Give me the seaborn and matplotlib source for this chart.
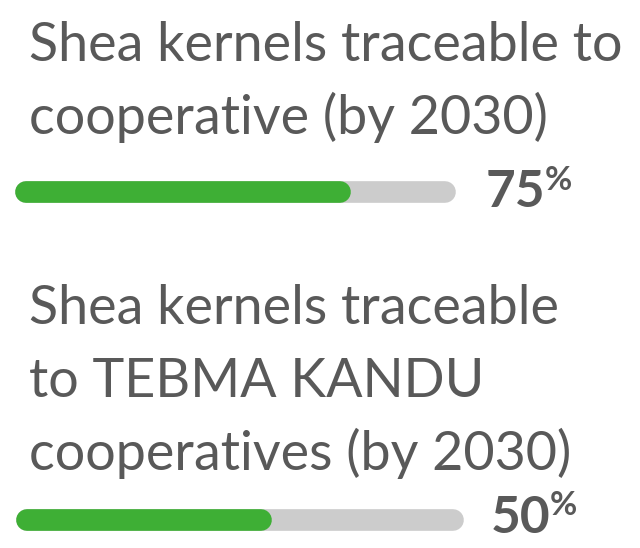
import pandas as pd
import seaborn as sns
import matplotlib.pyplot as plt

# goals shown in the infographic
titles = [
    "Shea kernels traceable to\ncooperative (by 2030)",
    "Shea kernels traceable\nto TEBMA KANDU\ncooperatives (by 2030)",
]
labels = ["75", "50"]          # printed percentage
fill = [75, 55]                # bar length as drawn (percent of track)

green = "#3EAF35"
track = "#CCCCCC"
ink = "#595959"

sns.set_theme(style="white")
plt.rcParams["font.family"] = ["Lato", "DejaVu Sans"]

W, H = 640, 548
fig = plt.figure(figsize=(W / 100, H / 100), dpi=100)


def px(x, y):
    return x / W, 1 - y / H


# layout in pixels: text x, first baseline, bar cap centres, bar y, value x/baseline, % x/baseline
layout = [
    dict(tx=29, base=61, x0=25.7, x1=444.7, yb=192, vx=486, vb=207, sx=545, sb=190),
    dict(tx=29, base=324, x0=27.2, x1=452.8, yb=520, vx=491, vb=533, sx=550, sb=515),
]
line_gap = 73

for title, lab, val, lay in zip(titles, labels, fill, layout):
    for i, line in enumerate(title.split("\n")):
        fig.text(*px(lay["tx"], lay["base"] + i * line_gap), line,
                 fontsize=38.8, color=ink, va="baseline", ha="left")

    ax = fig.add_axes([lay["x0"] / W, 1 - (lay["yb"] + 15) / H,
                       (lay["x1"] - lay["x0"]) / W, 30 / H])
    df = pd.DataFrame({
        "x": [0, 100, 0, val],
        "y": [0, 0, 0, 0],
        "part": ["track", "track", "fill", "fill"],
    })
    sns.lineplot(data=df, x="x", y="y", hue="part", hue_order=["track", "fill"],
                 palette={"track": track, "fill": green}, estimator=None,
                 sort=False, linewidth=15.6, solid_capstyle="round",
                 legend=False, ax=ax)
    for ln in ax.lines:
        ln.set_clip_on(False)
    ax.set_xlim(0, 100)
    ax.set_ylim(-1, 1)
    ax.axis("off")

    fig.text(*px(lay["vx"], lay["vb"]), lab, fontsize=37, fontweight="bold",
             color=ink, va="baseline", ha="left")
    fig.text(*px(lay["sx"], lay["sb"]), "%", fontsize=24, fontweight="bold",
             color=ink, va="baseline", ha="left")

fig.savefig("out.png", dpi=100, facecolor="white")
